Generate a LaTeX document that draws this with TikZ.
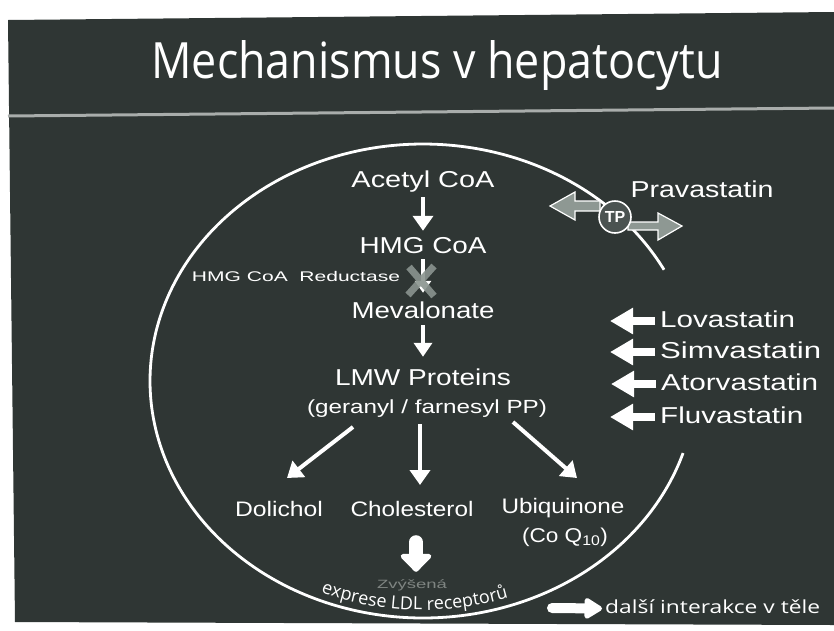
\documentclass[tikz,border=0pt]{standalone}
\usepackage{fontspec}
\setmainfont{Liberation Sans}
\newfontfamily\comic{Open Sans}
\usetikzlibrary{arrows.meta,decorations.text}
\definecolor{slide}{HTML}{2F3634}
\definecolor{rulegray}{HTML}{A9ADAB}
\definecolor{tpgray}{HTML}{8E9893}
\definecolor{dimtext}{HTML}{7F8582}
\definecolor{xgray}{HTML}{8A948F}
\newcommand{\fw}[2]{\resizebox{#1pt}{\height}{#2}}
\newcommand{\fs}[1]{\fontsize{#1}{#1}\selectfont}
\begin{document}
\begin{tikzpicture}[x=1pt,y=1pt,
  lbl/.style={text=white, inner sep=0pt, anchor=base, text height=17pt, text depth=5pt, font=\fs{23}},
  mid/.style={lbl, font=\fs{21}},
  statin/.style={lbl, anchor=base west},
  flow/.style={white, line width=4pt, -{Triangle[width=20pt,length=15pt]}},
  statar/.style={white, line width=8pt, -{Triangle[width=25pt,length=23pt]}},
  tparrow/.style={fill=tpgray, draw=white, line width=1.2pt, line join=miter},
]
\useasboundingbox (0,0) rectangle (834,-630);
\fill[white] (0,0) rectangle (834,-630);
\fill[slide] (8,-20) -- (834,-12) -- (834,-625) -- (15,-622) -- cycle;
\draw[rulegray, line width=3pt] (8,-116) -- (834,-108);

% title
\node[text=white, inner sep=0pt, anchor=base, font=\comic\fs{50}] (title) at (437,-78) {\fw{571}{Mechanismus v hepatocytu}};

% cell outline
\draw[white, line width=2.8pt] plot[domain=28:342.3, samples=160, smooth] ({423+273*cos(\x)},{-381+237*sin(\x)});

% curved text along the bottom of the cell
\begin{scope}[shift={(423,-381)}]
\path[decorate, decoration={text along path, text color=white, text align=center,
  text={|\comic\fs{18}|exprese LDL receptorů}}]
  (226:267pt and 229pt) arc[start angle=226, end angle=310, x radius=267pt, y radius=229pt];
\end{scope}

% Pravastatin transporter
\draw[tparrow] (600,-201) -- (575,-201) -- (575,-192) -- (550,-206) -- (575,-220) -- (575,-211) -- (600,-211) -- cycle;
\draw[tparrow] (628,-222) -- (658,-222) -- (658,-213) -- (682,-226) -- (658,-240) -- (658,-230) -- (628,-230) -- cycle;
\node[circle, draw=white, line width=1.6pt, fill=slide!70!tpgray, minimum size=32pt, inner sep=0pt,
  font=\bfseries\fs{16}, text=white] (tp) at (615,-217) {TP};
\node[lbl] (prava) at (702,-197) {\fw{143}{Pravastatin}};

% pathway
\node[lbl] (acetyl) at (423,-187) {\fw{143}{Acetyl CoA}};
\node[lbl] (hmg) at (423,-253) {\fw{127}{HMG CoA}};
\node[lbl, font=\fs{14}, text height=11pt, text depth=3pt] (reduct) at (296,-281) {\fw{208}{HMG CoA\ \ Reductase}};
\node[lbl] (mev) at (423,-318) {\fw{143}{Mevalonate}};
\node[lbl] (lmw) at (423,-385) {\fw{176}{LMW Proteins}};
\node[lbl, font=\fs{19}, text height=14pt, text depth=5pt] (geranyl) at (427,-413) {\fw{240}{(geranyl / farnesyl PP)}};
\node[mid] (dolichol) at (279,-516) {\fw{88}{Dolichol}};
\node[mid] (chol) at (412,-516) {\fw{123}{Cholesterol}};
\node[mid] (ubiq) at (563,-513) {\fw{123}{Ubiquinone}};
\node[lbl, font=\fs{20}] (coq) at (565,-542) {\fw{86}{(Co Q\textsubscript{10})}};
\node[lbl, font=\fs{12}, text=dimtext, text height=9pt, text depth=3pt] (zvys) at (412,-588) {\fw{70}{Zvýšená}};

\draw[flow, shorten <=5pt, shorten >=5pt] (acetyl) -- (hmg);
\draw[white, line width=4pt, -{Triangle[width=16pt,length=12pt]}, shorten <=1pt, shorten >=8pt] (hmg) -- (mev);
\draw[xgray, line width=7pt, opacity=0.9] (409,-267) -- (434,-296) (434,-266) -- (408,-295);
\draw[flow, -{Triangle[width=18pt,length=14pt]}, shorten <=2pt, shorten >=11pt] (mev) -- (lmw);

\coordinate (b1s) at (353,-427);
\coordinate (b1e) at (287,-478);
\coordinate (b2s) at (420,-424);
\coordinate (b2e) at (420,-485);
\coordinate (b3s) at (513,-422);
\coordinate (b3e) at (577,-478);
\draw[flow] (b1s) -- (b1e);
\draw[flow] (b2s) -- (b2e);
\draw[flow] (b3s) -- (b3e);

% up-regulation arrow
\draw[white, line width=14pt, line cap=round, -{Triangle[width=36pt,length=19pt,round]},
  shorten <=21pt, shorten >=7pt] ([xshift=4pt]chol.south) -- ([xshift=4pt]zvys.north);

% statins
\node[statin] (lova) at (660,-327) {\fw{135}{Lovastatin}};
\node[statin] (simva) at (660,-358) {\fw{161}{Simvastatin}};
\node[statin] (atorva) at (661,-390) {\fw{157}{Atorvastatin}};
\node[statin] (fluva) at (660,-423) {\fw{143}{Fluvastatin}};
\foreach \s in {lova,simva,atorva,fluva}
  \draw[statar] ([xshift=-5pt]\s.west) -- ++(-45,0);

% other interactions
\node[statin, font=\comic\fs{18}, text height=13pt, text depth=4pt] (dalsi) at (605,-613) {\fw{215}{další interakce v těle}};
\coordinate (keytail) at (552,-608);
\draw[white, line width=10pt, line cap=round, -{Triangle[width=23pt,length=20pt,round]}] (keytail) -- ([xshift=-3pt]dalsi.west);
\end{tikzpicture}
\end{document}
